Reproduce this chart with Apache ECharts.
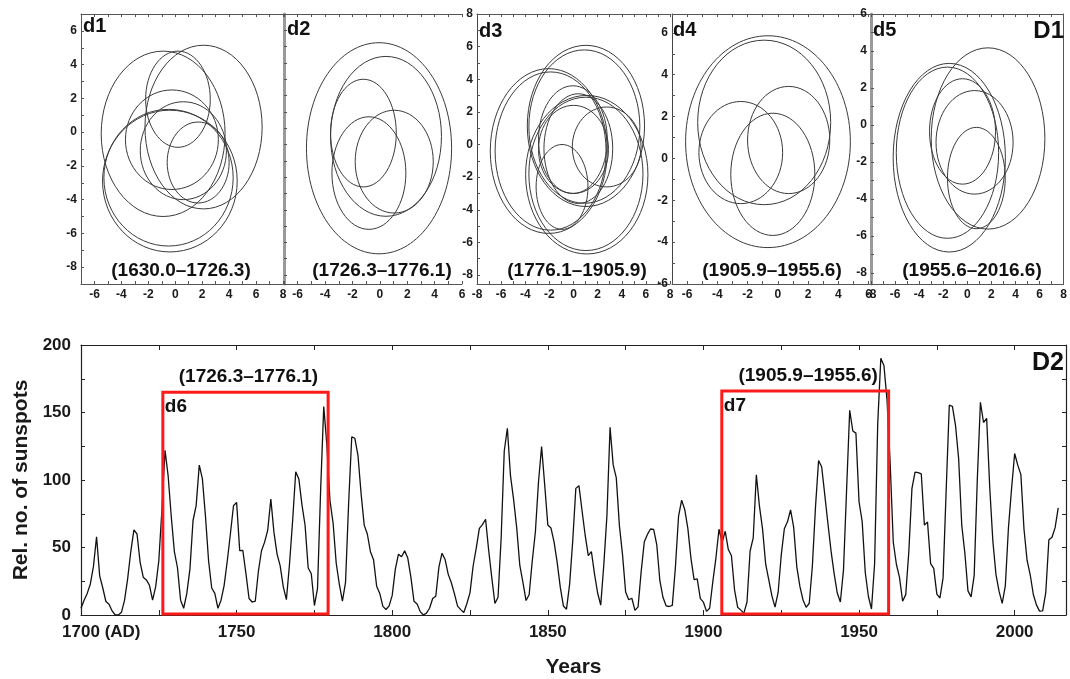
<!DOCTYPE html>
<html>
<head>
<meta charset="utf-8">
<script src="https://cdn.jsdelivr.net/npm/echarts@6.0.0/dist/echarts.min.js"></script>
<style>
  html, body { margin: 0; padding: 0; background: #fff; }
  #chart { width: 1070px; height: 679px; }
</style>
</head>
<body>
<div id="chart"></div>
<script>
// ---------- Phase-plane loops (D1): one ellipse per cycle [centre x, centre y, half-width, half-height] ----------
const loopsD1 = [
  [2.1, 0.3, 4.35, 4.85],
  [-0.9, -0.1, 4.6, 4.9],
  [-0.4, -2.9, 5.0, 4.2],
  [-0.5, -2.7, 4.8, 4.05],
  [-0.25, -0.45, 3.45, 2.95],
  [0.6, -1.1, 3.2, 2.9],
  [1.7, -1.8, 2.3, 2.4],
  [0.2, 1.95, 2.4, 2.85]
];
const loopsD2 = [
  [-0.06, -0.23, 5.3, 6.47],
  [0.45, 0.5, 4.05, 4.9],
  [1.05, -1.05, 2.85, 3.15],
  [-0.8, -1.75, 2.7, 3.45],
  [-1.2, 0.7, 2.4, 3.3]
];
const loopsD3 = [
  [1.03, 1.14, 4.86, 4.94],
  [0.9, 1.1, 4.6, 4.7],
  [-2.05, -0.4, 4.85, 5.05],
  [-1.9, -0.4, 4.6, 4.85],
  [1.1, -1.85, 5.07, 4.86],
  [1.03, -1.8, 4.73, 4.7],
  [-0.05, 0.3, 2.85, 3.3],
  [0.0, -0.3, 2.9, 2.7],
  [2.75, -0.15, 2.85, 2.45],
  [-0.95, -2.6, 2.15, 2.6],
  [0.4, -0.25, 2.85, 3.36]
];
const loopsD4 = [
  [-0.65, 0.8, 5.45, 5.06],
  [-0.9, 1.72, 4.4, 3.93],
  [-2.45, 0.28, 2.77, 2.44],
  [0.72, 0.88, 2.72, 2.56],
  [-0.33, -0.76, 2.78, 2.92]
];
const loopsD5 = [
  [1.72, -0.73, 4.72, 4.9],
  [-1.5, -1.77, 4.66, 5.1],
  [-1.65, -1.5, 4.25, 4.63],
  [-0.4, -0.35, 2.74, 2.85],
  [0.6, -0.94, 3.2, 2.8],
  [0.75, -2.87, 2.4, 2.74]
];

const panelTags = ['d1', 'd2', 'd3', 'd4', 'd5'];
const panelPeriods = ['(1630.0–1726.3)', '(1726.3–1776.1)', '(1776.1–1905.9)', '(1905.9–1955.6)', '(1955.6–2016.6)'];

const xRangeD = [[-7, 8], [-7, 6], [-8, 8], [-7, 6.1], [-8, 8]];
const yRangeD = [[-9, 7], [-8.55, 8], [-8.55, 8], [-6, 6.9], [-8.6, 6]];
const xTickLabelsD = [
  [-6, -4, -2, 0, 2, 4, 6, 8],
  [-6, -4, -2, 0, 2, 4, 6],
  [-8, -6, -4, -2, 0, 2, 4, 6, 8],
  [-6, -4, -2, 0, 2, 4, 6],
  [-8, -6, -4, -2, 0, 2, 4, 6, 8]
];
const yTickLabelsD = [
  [-8, -6, -4, -2, 0, 2, 4, 6],
  [],
  [-8, -6, -4, -2, 0, 2, 4, 6, 8],
  [-6, -4, -2, 0, 2, 4, 6],
  [-8, -6, -4, -2, 0, 2, 4, 6]
];

// ---------- Yearly relative sunspot numbers (D2), 1700–2014 ----------
const firstYear = 1700;
const sunspots = [
  5, 11, 16, 23, 36, 58, 29, 20, 10, 8,
  3, 0, 0, 2, 11, 27, 47, 63, 60, 39,
  28, 26, 22, 11, 21, 40, 78, 122, 103, 73,
  47, 35, 11, 5, 16, 34, 70, 81, 111, 101,
  73, 40, 20, 16, 5, 11, 22, 40, 60, 80.9,
  83.4, 47.7, 47.8, 30.7, 12.2, 9.6, 10.2, 32.4, 47.6, 54,
  62.9, 85.9, 61.2, 45.1, 36.4, 20.9, 11.4, 37.8, 69.8, 106.1,
  100.8, 81.6, 66.5, 34.8, 30.6, 7, 19.8, 92.5, 154.4, 125.9,
  84.8, 68.1, 38.5, 22.8, 10.2, 24.1, 82.9, 132, 130.9, 118.1,
  89.9, 66.6, 60, 46.9, 41, 21.3, 16, 6.4, 4.1, 6.8,
  14.5, 34, 45, 43.1, 47.5, 42.2, 28.1, 10.1, 8.1, 2.5,
  0, 1.4, 5, 12.2, 13.9, 35.4, 45.8, 41.1, 30.1, 23.9,
  15.6, 6.6, 4, 1.8, 8.5, 16.6, 36.3, 49.6, 64.2, 67,
  70.9, 47.8, 27.5, 8.5, 13.2, 56.9, 121.5, 138.3, 103.2, 85.7,
  64.6, 36.7, 24.2, 10.7, 15, 40.1, 61.5, 98.5, 124.7, 96.3,
  66.6, 64.5, 54.1, 39, 20.6, 6.7, 4.3, 22.7, 54.8, 93.8,
  95.8, 77.2, 59.1, 44, 47, 30.5, 16.3, 7.3, 37.6, 74,
  139, 111.2, 101.6, 66.2, 44.7, 17, 11.3, 12.4, 3.4, 6,
  32.3, 54.3, 59.7, 63.7, 63.5, 52.2, 25.4, 13.1, 6.8, 6.3,
  7.1, 35.6, 73, 85.1, 78, 64, 41.8, 26.2, 26.7, 12.1,
  9.5, 2.7, 5, 24.4, 42, 63.5, 53.8, 62, 48.5, 43.9,
  18.6, 5.7, 3.6, 1.4, 9.6, 47.4, 57.1, 103.9, 80.6, 63.6,
  37.6, 26.1, 14.2, 5.8, 16.7, 44.3, 63.9, 69, 77.8, 64.9,
  35.7, 21.2, 11.1, 5.7, 8.7, 36.1, 79.7, 114.4, 109.6, 88.8,
  67.8, 47.5, 30.6, 16.3, 9.6, 33.2, 92.6, 151.6, 136.3, 134.7,
  83.9, 69.4, 31.5, 13.9, 4.4, 38, 141.7, 190.2, 184.8, 159,
  112.3, 53.9, 37.6, 27.9, 10.2, 15.1, 47, 93.8, 105.9, 105.5,
  104.5, 66.6, 68.9, 38, 34.5, 15.5, 12.6, 27.5, 92.5, 155.4,
  154.6, 140.4, 115.9, 66.6, 45.9, 17.9, 13.4, 29.4, 100.2, 157.6,
  142.6, 145.7, 94.3, 54.6, 29.9, 17.5, 8.6, 21.5, 64.3, 93.3,
  119.6, 111, 104, 63.7, 40.4, 29.8, 15.2, 7.5, 2.9, 3.1,
  16.5, 55.7, 57.6, 64.7, 79.3
];

// Highlighted intervals in D2
const boxStart = [1726.3, 1905.9];
const boxEnd = [1779.4, 1959.5];
const boxBottom = [0.8, 0.8];
const boxTop = [165, 166];
const boxTitles = ['(1726.3–1776.1)', '(1905.9–1955.6)'];
const boxTags = ['d6', 'd7'];

// ---------- layout ----------
const FONT = "'Liberation Sans', Arial, Helvetica, sans-serif";
const INK = '#1a1a1a';
const panelGrids = [
  { left: 81, top: 14, width: 202, height: 270 },
  { left: 284, top: 14, width: 178, height: 270 },
  { left: 477, top: 14, width: 193, height: 270 },
  { left: 672, top: 14, width: 198, height: 270 },
  { left: 871, top: 14, width: 195, height: 270 }
];
const leftEdgeStyle = [
  { color: '#555', width: 1 },
  { color: '#9a9a9a', width: 3 },
  { color: '#444', width: 1 },
  { color: '#444', width: 1 },
  { color: '#9a9a9a', width: 3 }
];
const periodAnchor = [[181, 271], [382, 271], [577, 271], [772, 271], [972, 271]];
const tagAnchor = [[83, 16], [287, 19], [479, 21], [673, 20], [873, 20]];

function integersIn(r) {
  const out = [];
  for (let v = Math.ceil(r[0]); v <= Math.floor(r[1]); v++) out.push(v);
  return out;
}

const grids = [];
const xAxes = [];
const yAxes = [];
const series = [];
const graphics = [];

const loopSets = [loopsD1, loopsD2, loopsD3, loopsD4, loopsD5];

loopSets.forEach((loops, p) => {
  grids.push(Object.assign({ containLabel: false }, panelGrids[p]));
  const xr = xRangeD[p], yr = yRangeD[p];
  const base = {
    type: 'value', gridIndex: p, min: xr[0], max: xr[1],
    splitLine: { show: false },
    axisLine: { show: true, onZero: false, lineStyle: { color: '#555', width: 1 } }
  };
  // bottom axis with labels
  xAxes.push(Object.assign({}, base, {
    position: 'bottom',
    axisTick: { show: true, inside: true, length: 3, customValues: integersIn(xr), lineStyle: { color: '#555' } },
    axisLabel: {
      show: true, customValues: xTickLabelsD[p], margin: 5,
      fontFamily: FONT, fontWeight: 'bold', fontSize: 12, color: INK
    }
  }));
  // top frame edge with ticks
  xAxes.push(Object.assign({}, base, {
    position: 'top',
    axisTick: { show: true, inside: true, length: 3, customValues: integersIn(xr), lineStyle: { color: '#555' } },
    axisLabel: { show: false }
  }));
  yAxes.push({
    type: 'value', gridIndex: p, min: yr[0], max: yr[1], position: 'left',
    splitLine: { show: false },
    axisLine: { show: true, onZero: false, lineStyle: leftEdgeStyle[p] },
    axisTick: { show: true, inside: true, length: 3, customValues: integersIn(yr), lineStyle: { color: '#555' } },
    axisLabel: {
      show: yTickLabelsD[p].length > 0, customValues: yTickLabelsD[p], margin: 4,
      fontFamily: FONT, fontWeight: 'bold', fontSize: 12, color: INK
    }
  });

  series.push({
    type: 'custom',
    name: panelTags[p],
    xAxisIndex: 2 * p,
    yAxisIndex: p,
    clip: true,
    silent: true,
    animation: false,
    encode: { x: 0, y: 1 },
    data: loops,
    renderItem: function (params, api) {
      const c = api.coord([api.value(0), api.value(1)]);
      const s = api.size([api.value(2), api.value(3)]);
      return {
        type: 'ellipse',
        shape: { cx: c[0], cy: c[1], rx: s[0], ry: s[1] },
        style: { fill: 'none', stroke: '#3a3a3a', lineWidth: 1 }
      };
    }
  });

  graphics.push({
    type: 'text', x: tagAnchor[p][0], y: tagAnchor[p][1], z: 10,
    style: { text: panelTags[p], fontFamily: FONT, fontWeight: 'bold', fontSize: 20, fill: '#111', align: 'left', verticalAlign: 'top' }
  });
  graphics.push({
    type: 'text', x: periodAnchor[p][0], y: periodAnchor[p][1], z: 10,
    style: { text: panelPeriods[p], fontFamily: FONT, fontWeight: 'bold', fontSize: 19, fill: '#111', align: 'center', verticalAlign: 'middle' }
  });
});

// right frame edge of the last panel
yAxes.push({
  type: 'value', gridIndex: 4, min: yRangeD[4][0], max: yRangeD[4][1], position: 'right',
  splitLine: { show: false },
  axisLine: { show: true, onZero: false, lineStyle: { color: '#555', width: 1 } },
  axisTick: { show: false }, axisLabel: { show: false }
});

graphics.push({
  type: 'text', x: 1064, y: 19, z: 10,
  style: { text: 'D1', fontFamily: FONT, fontWeight: 'bold', fontSize: 24, fill: '#111', align: 'right', verticalAlign: 'top' }
});

// ---------- D2: sunspot series ----------
const g2 = grids.length;
grids.push({ left: 81, top: 345, width: 985, height: 271, containLabel: false });

const yearMax = 2016.5;
const xIdx = xAxes.length;
const yIdx = yAxes.length;
const labelFont = { fontFamily: FONT, fontWeight: 'bold', fontSize: 17, color: INK };

xAxes.push({
  type: 'value', gridIndex: g2, min: firstYear, max: yearMax, interval: 25, position: 'bottom',
  splitLine: { show: false },
  axisLine: { show: true, onZero: false, lineStyle: { color: '#222', width: 1.2 } },
  axisTick: { show: true, inside: true, length: 5, lineStyle: { color: '#222' } },
  axisLabel: Object.assign({
    margin: 9,
    showMaxLabel: false,
    formatter: function (v) {
      if (v % 50 !== 0) return '';
      return v === firstYear ? '{pad|(AD) }' + v + ' (AD)' : String(v);
    },
    rich: { pad: { color: 'rgba(0,0,0,0)', fontFamily: FONT, fontWeight: 'bold', fontSize: 17 } }
  }, labelFont),
  name: 'Years', nameLocation: 'middle', nameGap: 42,
  nameTextStyle: { fontFamily: FONT, fontWeight: 'bold', fontSize: 21, color: INK }
});
xAxes.push({
  type: 'value', gridIndex: g2, min: firstYear, max: yearMax, interval: 25, position: 'top',
  splitLine: { show: false },
  axisLine: { show: true, onZero: false, lineStyle: { color: '#222', width: 1.2 } },
  axisTick: { show: true, inside: true, length: 5, lineStyle: { color: '#222' } },
  axisLabel: { show: false }
});
yAxes.push({
  type: 'value', gridIndex: g2, min: 0, max: 200, interval: 25, position: 'left',
  splitLine: { show: false },
  axisLine: { show: true, onZero: false, lineStyle: { color: '#222', width: 1.2 } },
  axisTick: { show: true, inside: true, length: 4, lineStyle: { color: '#222' } },
  axisLabel: Object.assign({
    margin: 10,
    formatter: function (v) { return v % 50 === 0 ? String(v) : ''; }
  }, labelFont),
  name: 'Rel. no. of sunspots', nameLocation: 'middle', nameGap: 47, nameRotate: 90,
  nameTextStyle: { fontFamily: FONT, fontWeight: 'bold', fontSize: 21, color: INK }
});
yAxes.push({
  type: 'value', gridIndex: g2, min: 0, max: 200, interval: 25, position: 'right',
  splitLine: { show: false },
  axisLine: { show: true, onZero: false, lineStyle: { color: '#222', width: 1.2 } },
  axisTick: { show: true, inside: true, length: 4, lineStyle: { color: '#222' } },
  axisLabel: { show: false }
});

series.push({
  type: 'line',
  name: 'sunspots',
  xAxisIndex: xIdx,
  yAxisIndex: yIdx,
  showSymbol: false,
  symbol: 'none',
  animation: false,
  silent: true,
  lineStyle: { color: '#111', width: 1.3 },
  data: sunspots.map((v, i) => [firstYear + i, v])
});

series.push({
  type: 'custom',
  name: 'intervals',
  xAxisIndex: xIdx,
  yAxisIndex: yIdx,
  clip: false,
  silent: true,
  animation: false,
  z: 5,
  encode: { x: [0, 1], y: [2, 3] },
  data: boxStart.map((s, i) => [s, boxEnd[i], boxBottom[i], boxTop[i]]),
  renderItem: function (params, api) {
    const i = params.dataIndex;
    const tl = api.coord([api.value(0), api.value(3)]);
    const br = api.coord([api.value(1), api.value(2)]);
    return {
      type: 'group',
      children: [
        {
          type: 'rect',
          shape: { x: tl[0], y: tl[1], width: br[0] - tl[0], height: br[1] - tl[1] },
          style: { fill: 'none', stroke: '#ff1a1a', lineWidth: 3 }
        },
        {
          type: 'text', x: (tl[0] + br[0]) / 2 + 3, y: tl[1] - 6,
          style: { text: boxTitles[i], fontFamily: FONT, fontWeight: 'bold', fontSize: 19, fill: '#111', align: 'center', verticalAlign: 'bottom' }
        },
        {
          type: 'text', x: tl[0] + 2, y: tl[1] + 5,
          style: { text: boxTags[i], fontFamily: FONT, fontWeight: 'bold', fontSize: 19, fill: '#111', align: 'left', verticalAlign: 'top' }
        }
      ]
    };
  }
});

graphics.push({
  type: 'text', x: 1064, y: 351, z: 10,
  style: { text: 'D2', fontFamily: FONT, fontWeight: 'bold', fontSize: 25, fill: '#111', align: 'right', verticalAlign: 'top' }
});

const chart = echarts.init(document.getElementById('chart'), null, { renderer: 'canvas' });
chart.setOption({
  backgroundColor: '#ffffff',
  animation: false,
  grid: grids,
  xAxis: xAxes,
  yAxis: yAxes,
  series: series,
  graphic: graphics
});
</script>
</body>
</html>
